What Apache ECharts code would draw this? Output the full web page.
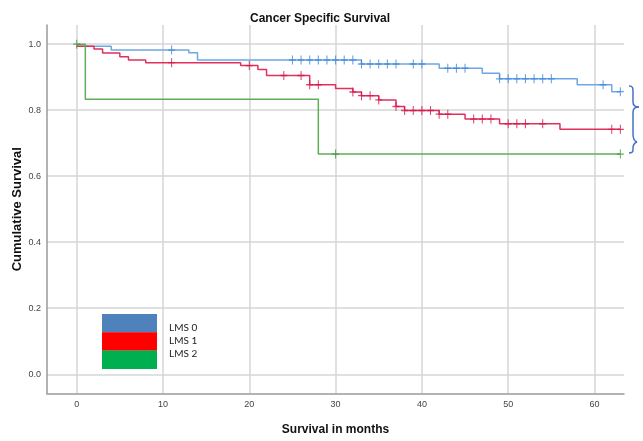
<!DOCTYPE html>
<html>
<head>
<meta charset="utf-8">
<script src="https://cdn.jsdelivr.net/npm/echarts@6/dist/echarts.min.js"></script>
<style>html,body{margin:0;padding:0;background:#fff}#c{width:643px;height:441px}</style>
</head>
<body>
<div id="c"></div>
<script>
// ---- data ----
const groupNames = ['LMS 0', 'LMS 1', 'LMS 2'];
const xTicks = [0, 10, 20, 30, 40, 50, 60];
const yTicks = [0, 0.2, 0.4, 0.6, 0.8, 1.0];

// Kaplan-Meier steps: event times and survival after each event
const lms0Times = [0, 4, 13, 14, 33, 42, 47, 49, 58, 62];
const lms0Surv  = [0.994, 0.982, 0.974, 0.952, 0.940, 0.927, 0.912, 0.895, 0.877, 0.856];
const lms0Censor = [11, 25, 26, 27, 28, 29, 30, 31, 32, 33, 34, 35, 36, 37, 39, 40, 43, 44, 45, 49, 50, 51, 52, 53, 54, 55, 61, 63];

const lms1Times = [0, 2, 3, 5, 6, 8, 19, 21, 22, 27, 30, 32, 33, 35, 37, 38, 42, 45, 49, 56];
const lms1Surv  = [0.994, 0.985, 0.973, 0.962, 0.952, 0.944, 0.935, 0.923, 0.905, 0.877, 0.866, 0.855, 0.844, 0.831, 0.811, 0.799, 0.788, 0.773, 0.759, 0.742];
const lms1Censor = [11, 20, 24, 26, 27, 28, 32, 33, 34, 35, 37, 38, 39, 40, 41, 42, 43, 46, 47, 48, 50, 51, 52, 54, 62, 63];

const lms2Times = [0, 1, 28];
const lms2Surv  = [1.0, 0.833, 0.667];
const lms2Censor = [0, 30, 63];

const followUpEnd = 63;

// ---- styles ----
const lineColors = ['#6fa6e6', '#e0305c', '#5fae57'];
const markColors = ['#3f86dc', '#d4184a', '#3f9a3a'];
const legendColors = ['#4f81bd', '#ff0000', '#00b050'];
const FONT = '"Liberation Sans", Arial, sans-serif';

function stepData(times, surv, end) {
  const d = times.map((t, i) => [t, surv[i]]);
  d.push([end, surv[surv.length - 1]]);
  return d;
}
function levelAt(times, surv, t) {
  let s = 1;
  for (let i = 0; i < times.length; i++) if (times[i] <= t) s = surv[i];
  return s;
}
function censorData(times, surv, cens) {
  return cens.map(t => [t, levelAt(times, surv, t)]);
}

const groups = [
  [lms0Times, lms0Surv, lms0Censor],
  [lms1Times, lms1Surv, lms1Censor],
  [lms2Times, lms2Surv, lms2Censor]
];

const plus = 'path://M3.4,0h1.2v3.4h3.4v1.2h-3.4v3.4h-1.2v-3.4h-3.4v-1.2h3.4z';

const series = [];
groups.forEach((g, i) => {
  series.push({
    name: groupNames[i], type: 'line', step: 'end', showSymbol: false, silent: true,
    data: stepData(g[0], g[1], followUpEnd),
    lineStyle: { color: lineColors[i], width: 1.5 }, z: 3 + i
  });
  series.push({
    name: groupNames[i] + ' censored', type: 'scatter', silent: true,
    data: censorData(g[0], g[1], g[2]),
    symbol: plus, symbolSize: [7, 9],
    itemStyle: { color: markColors[i] }, z: 6 + i
  });
});

const chart = echarts.init(document.getElementById('c'), null, { renderer: 'canvas' });

// legend block built from names/colours
const legendGraphics = [];
groupNames.forEach((n, i) => {
  legendGraphics.push({
    type: 'rect', x: 102, y: 314 + i * 18.3,
    shape: { x: 0, y: 0, width: 55, height: 18.5 }, style: { fill: legendColors[i] }
  });
  legendGraphics.push({
    type: 'text', x: 169, y: 327.5 + i * 13.3,
    style: { text: n, fill: '#222', font: '10px Lato, "Open Sans", sans-serif', textVerticalAlign: 'middle', verticalAlign: 'middle' }
  });
});

// curly brace annotation on the right
const braceStyle = { stroke: '#4472c4', fill: null, lineWidth: 1.5 };
const bz = (x1, y1, cx1, cy1, cx2, cy2, x2, y2) => ({
  type: 'bezierCurve', shape: { x1, y1, cpx1: cx1, cpy1: cy1, cpx2: cx2, cpy2: cy2, x2, y2 }, style: braceStyle
});
const ln = (x1, y1, x2, y2) => ({ type: 'line', shape: { x1, y1, x2, y2 }, style: braceStyle });
const brace = [
  bz(629, 86, 633, 86, 633, 88, 633, 92),
  ln(633, 92, 633, 102),
  bz(633, 102, 633, 105, 635, 107, 639, 107),
  bz(639, 107, 635, 107, 633, 109, 633, 112),
  ln(633, 112, 633, 134),
  bz(633, 134, 633, 139, 634, 141, 637, 142),
  bz(637, 142, 634, 143, 633, 145, 633, 148),
  ln(633, 148, 633, 150),
  bz(633, 150, 633, 152, 632, 153, 629, 153)
];

chart.setOption({
  animation: false,
  backgroundColor: '#fff',
  title: {
    text: 'Cancer Specific Survival', left: 245, top: 8,
    textStyle: { fontFamily: FONT, fontSize: 12, fontWeight: 'bold', color: '#111' }
  },
  grid: { left: 47, top: 25, width: 577, height: 368.4, containLabel: false },
  xAxis: {
    type: 'value', min: -3.44, max: 63.42,
    name: 'Survival in months', nameLocation: 'middle', nameGap: 30, nameMoveOverlap: false,
    nameTextStyle: { fontFamily: FONT, fontSize: 12, fontWeight: 'bold', color: '#111' },
    axisLine: { show: true, onZero: false, lineStyle: { color: '#9a9a9a', width: 1.5 } },
    axisTick: { show: false, customValues: xTicks },
    axisLabel: { customValues: xTicks, fontFamily: FONT, fontSize: 9, color: '#444', margin: 7 },
    splitLine: { show: true, lineStyle: { color: '#d6d6d6', width: 1.5 } }
  },
  yAxis: {
    type: 'value', min: -0.058, max: 1.058,
    name: 'Cumulative Survival', nameLocation: 'middle', nameGap: 23, nameRotate: 90, nameMoveOverlap: false,
    nameTextStyle: { fontFamily: FONT, fontSize: 13, fontWeight: 'bold', color: '#111' },
    axisLine: { show: true, onZero: false, lineStyle: { color: '#9a9a9a', width: 1.5 } },
    axisTick: { show: false, customValues: yTicks },
    axisLabel: { customValues: yTicks, fontFamily: FONT, fontSize: 9, color: '#444', margin: 6,
      formatter: v => v.toFixed(1) },
    splitLine: { show: true, lineStyle: { color: '#d6d6d6', width: 1.5 } }
  },
  series: series,
  graphic: { elements: legendGraphics.concat(brace) }
});
</script>
</body>
</html>
